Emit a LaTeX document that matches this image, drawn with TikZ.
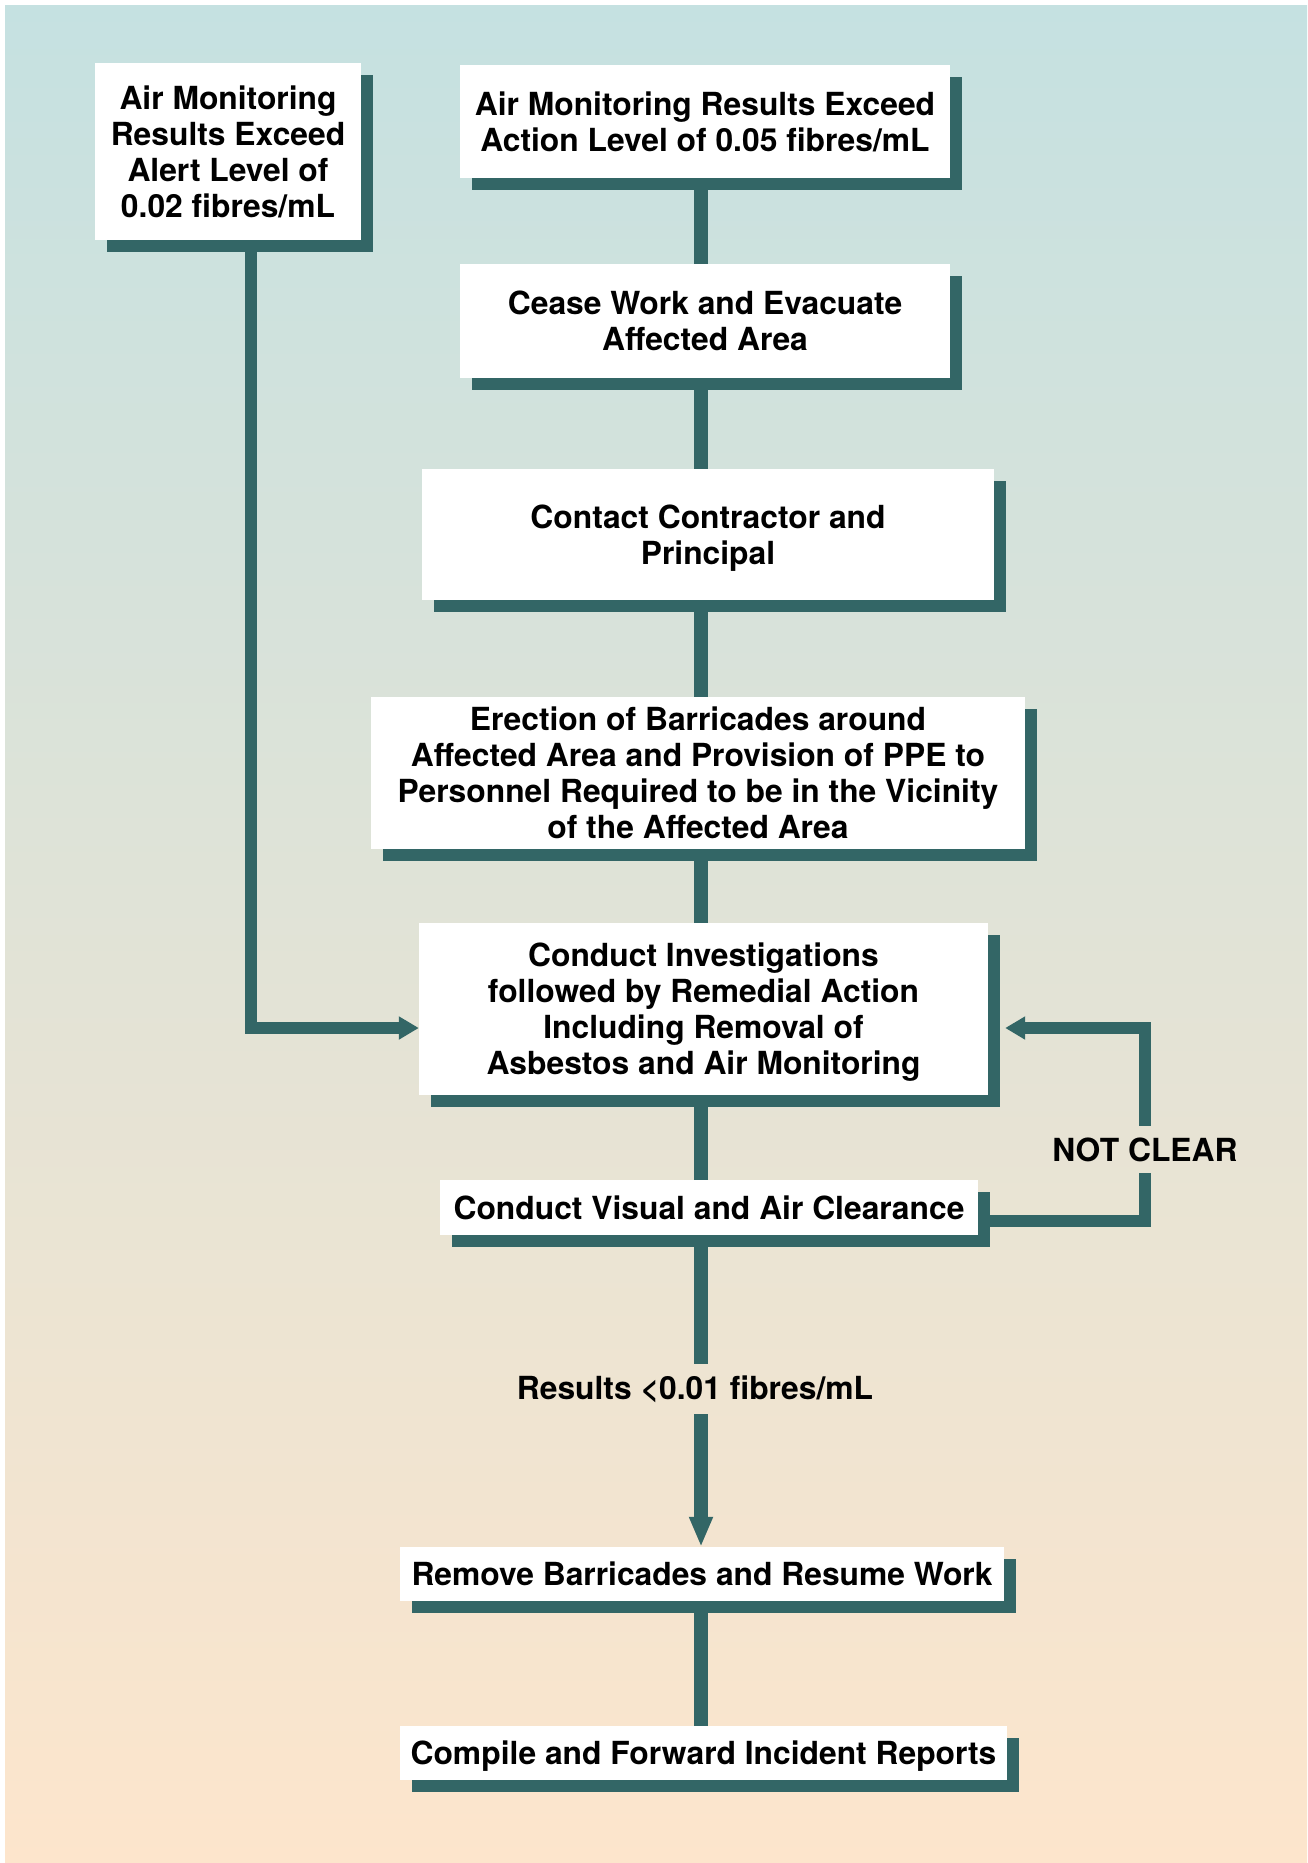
\documentclass[tikz,border=0pt]{standalone}
\usepackage{fontspec}
\setmainfont{TeX Gyre Heros}
\usetikzlibrary{arrows.meta,shadows}
\definecolor{deepteal}{RGB}{51,102,102}
\definecolor{bgtop}{RGB}{197,225,225}
\definecolor{bgbottom}{RGB}{253,229,204}

\begin{document}
\begin{tikzpicture}[x=1pt, y=-1pt,
    stepbox/.style={fill=white, inner sep=0pt, align=center, text depth=0pt,
      font=\fontsize{31.8}{36}\selectfont\bfseries,
      drop shadow={shadow xshift=12pt, shadow yshift=-12pt, fill=deepteal, opacity=1}},
    tag/.style={inner sep=0pt, minimum height=#1, font=\fontsize{31.8}{36}\selectfont\bfseries},
    mainlink/.style={draw=deepteal, line width=14pt},
    sidelink/.style={draw=deepteal, line width=12pt},
    bighead/.style={-{Triangle[length=30pt,width=22pt]}},
    smallhead/.style={-{Triangle[length=20pt,width=22pt]}}]
  \shade[top color=bgtop, bottom color=bgbottom] (5,5) rectangle (1307,1863);
  \useasboundingbox (0,0) rectangle (1307,1863);
  \coordinate (spine) at (701,0);

  \node[stepbox, minimum width=266pt, minimum height=177pt] (alert) at (228,151.5)
    {Air Monitoring\\Results Exceed\\Alert Level of\\0.02 fibres/mL};
  \node[stepbox, minimum width=490pt, minimum height=113pt] (action) at (705,121.5)
    {Air Monitoring Results Exceed\\Action Level of 0.05 fibres/mL};
  \node[stepbox, minimum width=490pt, minimum height=114pt] (cease) at (705,321)
    {Cease Work and Evacuate\\Affected Area};
  \node[stepbox, minimum width=572pt, minimum height=131pt] (contact) at (708,534.5)
    {Contact Contractor and\\Principal};
  \node[stepbox, minimum width=654pt, minimum height=152pt] (barricade) at (698,773)
    {Erection of Barricades around\\Affected Area and Provision of PPE to\\Personnel Required to be in the Vicinity\\of the Affected Area};
  \node[stepbox, minimum width=569pt, minimum height=172pt] (investigate) at (703.5,1009)
    {Conduct Investigations\\followed by Remedial Action\\Including Removal of\\Asbestos and Air Monitoring};
  \node[stepbox, minimum width=538pt, minimum height=55pt] (clearance) at (709,1207.5)
    {Conduct Visual and Air Clearance};
  \node[tag=50pt] (results) at (695,1389) {Results <0.01 fibres/mL};
  \node[tag=47pt] (notclear) at (1145,1149.5) {NOT CLEAR};
  \node[stepbox, minimum width=604pt, minimum height=54pt] (resume) at (702,1574)
    {Remove Barricades and Resume Work};
  \node[stepbox, minimum width=607pt, minimum height=54pt] (report) at (703.5,1753)
    {Compile and Forward Incident Reports};

  \foreach \a/\b in {action/cease, cease/contact, contact/barricade,
                     barricade/investigate, investigate/clearance,
                     clearance/results, resume/report}
    \path[mainlink] (\a.south -| spine) -- (\b.north -| spine);
  \path[mainlink, bighead] (results.south -| spine) -- (resume.north -| spine);

  \path[sidelink, smallhead] ([xshift=23pt]alert.south) |- ([yshift=-19pt]investigate.west);
  \path[sidelink] ([yshift=-13pt]clearance.east) -| (notclear.south);
  \path[sidelink, smallhead] (notclear.north) |- ([xshift=17pt,yshift=-19pt]investigate.east);
\end{tikzpicture}
\end{document}
